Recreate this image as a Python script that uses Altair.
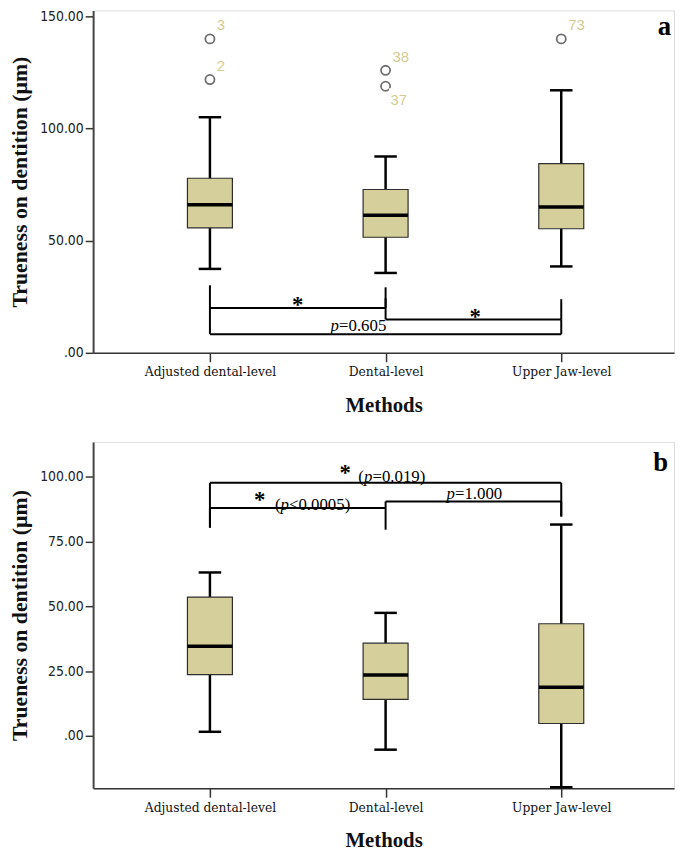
import json
import altair as alt
import pandas as pd

methods = ["Adjusted dental-level", "Dental-level", "Upper Jaw-level"]

# ---------- panel a ----------
a_low = [37.4, 35.6, 38.5]
a_q1 = [55.7, 51.5, 55.3]
a_med = [66.0, 61.3, 65.0]
a_q3 = [77.8, 72.8, 84.3]
a_high = [105.0, 87.5, 117.0]
a_out_method = [0, 0, 1, 1, 2]
a_out_value = [139.9, 121.8, 125.9, 118.8, 139.9]
a_out_label = ["3", "2", "38", "37", "73"]
a_out_side = ["above", "above", "above", "below", "above"]
a_br_from = [0, 1, 0]
a_br_to = [1, 2, 2]
a_br_level = [20.0, 14.9, 8.3]
a_br_left_end = [30.1, 24.3, 20.0]
a_br_right_end = [29.2, 23.9, 14.9]
a_star_x = [0.5, 1.51]
a_star_y = [22.9, 17.6]
a_p_x = [0.687]
a_p_y = [9.8]
a_p_prefix = [""]
a_p_suffix = ["=0.605"]
a_ticks = [0, 50, 100, 150]
a_domain = [0, 152.6]

# ---------- panel b ----------
b_low = [1.6, -5.3, -19.8]
b_q1 = [23.7, 14.1, 4.8]
b_med = [34.6, 23.5, 18.8]
b_q3 = [53.6, 35.8, 43.3]
b_high = [63.1, 47.5, 81.6]
b_br_from = [0, 0, 1]
b_br_to = [2, 1, 2]
b_br_level = [97.7, 88.0, 90.5]
b_br_left_end = [80.4, 80.4, 88.0]
b_br_right_end = [84.7, 79.6, 84.7]
b_star_x = [0.77, 0.283]
b_star_y = [103.1, 92.5]
b_p_x = [0.877, 0.402, 1.347]
b_p_y = [98.2, 87.3, 91.6]
b_p_prefix = ["(", "(", ""]
b_p_suffix = ["=0.019)", "<0.0005)", "=1.000"]
b_ticks = [0, 25, 50, 75, 100]
b_domain = [-20.2, 113.5]

# ---------- styling ----------
W = 587
H_A = 346
H_B = 350
X_DOMAIN = [-0.665, 2.642]
BOX_FILL = "#D5D09B"
LABEL_COLOR = "#D3CB93"
SERIF = "Liberation Serif"
XLAB_FONT = "DejaVu Serif Condensed"
TICK_FONT = "DejaVu Sans Condensed"
BOX_HALF = 0.128
CAP_HALF = 0.064

label_expr = json.dumps(methods) + "[datum.value]"


def make_panel(low, q1, med, q3, high, out_m, out_v, out_l, out_s,
               br_from, br_to, br_level, br_le, br_re,
               star_x, star_y, p_x, p_y, p_pre, p_suf,
               ticks, ydom, H, tag, tag_y, tag_dx):
    px_x = W / (X_DOMAIN[1] - X_DOMAIN[0])
    px_y = H / (ydom[1] - ydom[0])

    x_axis = alt.Axis(values=[0, 1, 2], labelExpr=label_expr, title="Methods",
                      grid=False, labelFlush=False, labelOverlap=False,
                      labelFont=XLAB_FONT, labelFontSize=13.8, labelColor="#111",
                      titleFont=SERIF, titleFontSize=21, titleFontWeight="bold",
                      titleColor="#111", titlePadding=16,
                      tickSize=9, tickWidth=1.5, tickColor="#333",
                      domainColor="#333", domainWidth=1.5, labelPadding=3)
    y_axis = alt.Axis(values=ticks,
                      labelExpr="datum.value == 0 ? '.00' : format(datum.value, '.2f')",
                      title="Trueness on dentition (\u00b5m)", grid=False,
                      labelFlush=False, labelFont=TICK_FONT, labelFontSize=14,
                      labelColor="#222", labelPadding=2,
                      tickSize=8, tickWidth=1.5, tickColor="#333",
                      domainColor="#444", domainWidth=2,
                      titleFont=SERIF, titleFontSize=22, titleFontWeight="bold",
                      titleColor="#111", titleX=-74, titleY=H / 2,
                      titleAngle=270, titleAlign="center", titleBaseline="middle")
    xs = alt.Scale(domain=X_DOMAIN, nice=False, zero=False)
    ys = alt.Scale(domain=ydom, nice=False, zero=False)

    def X(f):
        return alt.X(f, type="quantitative", scale=xs, axis=x_axis)

    def Y(f):
        return alt.Y(f, type="quantitative", scale=ys, axis=y_axis)

    box = pd.DataFrame({"pos": [0, 1, 2], "low": low, "q1": q1, "med": med,
                        "q3": q3, "high": high})
    base = alt.Chart(box).transform_calculate(
        bl=f"datum.pos - {BOX_HALF}", br=f"datum.pos + {BOX_HALF}",
        cl=f"datum.pos - {CAP_HALF}", cr=f"datum.pos + {CAP_HALF}")
    whisk = base.mark_rule(color="black", strokeWidth=2.5).encode(
        x=X("pos"), y=Y("low"), y2="high")
    cap_lo = base.mark_rule(color="black", strokeWidth=2.5).encode(
        x=X("cl"), x2="cr", y=Y("low"))
    cap_hi = base.mark_rule(color="black", strokeWidth=2.5).encode(
        x=X("cl"), x2="cr", y=Y("high"))
    rect = base.mark_rect(fill=BOX_FILL, stroke="#2e2e2e", strokeWidth=1.2).encode(
        x=X("bl"), x2="br", y=Y("q1"), y2="q3")
    median = base.mark_rule(color="black", strokeWidth=3.5).encode(
        x=X("bl"), x2="br", y=Y("med"))
    layers = [whisk, cap_lo, cap_hi, rect, median]

    if out_m:
        outs = pd.DataFrame({"pos": out_m, "value": out_v, "label": out_l,
                             "side": out_s})
        ob = alt.Chart(outs).transform_calculate(
            tx=f"datum.pos + (datum.side == 'above' ? 7 : 5) / {px_x}",
            ty=f"datum.value + (datum.side == 'above' ? 8.5 : -19) / {px_y}",
        ).transform_calculate(
            rx1=f"datum.tx - 1.5 / {px_x}",
            rx2=f"datum.tx + (length(datum.label) * 8.3 + 2) / {px_x}",
            ry1=f"datum.ty + 17 / {px_y}",
            ry2=f"datum.ty - 6 / {px_y}",
        )
        pts = ob.mark_point(shape="circle", filled=False, stroke="#333",
                            strokeWidth=1.8, size=85).encode(
            x=X("pos"), y=Y("value"))
        bg = ob.mark_rect(fill="white", clip=True).encode(
            x=X("rx1"), x2="rx2", y=Y("ry1"), y2="ry2")
        txt = ob.mark_text(align="left", baseline="alphabetic",
                           font="Liberation Sans", fontSize=15,
                           color=LABEL_COLOR, clip=True).encode(
            x=X("tx"), y=Y("ty"), text="label:N")
        layers += [pts, bg, txt]

    br = pd.DataFrame({"x1": br_from, "x2": br_to, "lvl": br_level,
                       "le": br_le, "re": br_re})
    bb = alt.Chart(br)
    layers += [
        bb.mark_rule(color="black", strokeWidth=2).encode(
            x=X("x1"), x2="x2", y=Y("lvl")),
        bb.mark_rule(color="black", strokeWidth=2).encode(
            x=X("x1"), y=Y("lvl"), y2="le"),
        bb.mark_rule(color="black", strokeWidth=2).encode(
            x=X("x2"), y=Y("lvl"), y2="re"),
    ]

    stars = pd.DataFrame({"x": star_x, "y": star_y, "s": ["*"] * len(star_x)})
    layers.append(alt.Chart(stars).mark_text(
        font=SERIF, fontSize=23, fontWeight="bold", color="black",
        align="center", baseline="alphabetic", dy=11).encode(
        x=X("x"), y=Y("y"), text="s:N"))

    pdf = pd.DataFrame({"x": p_x, "y": p_y, "pre": p_pre, "suf": p_suf,
                        "p": ["p"] * len(p_x)})
    pb = alt.Chart(pdf)
    layers += [
        pb.mark_text(font=SERIF, fontSize=17, color="black", align="right",
                     baseline="alphabetic").encode(x=X("x"), y=Y("y"), text="pre:N"),
        pb.mark_text(font=SERIF, fontSize=17, fontStyle="italic", color="black",
                     align="left", baseline="alphabetic").encode(
            x=X("x"), y=Y("y"), text="p:N"),
        pb.mark_text(font=SERIF, fontSize=17, color="black", align="left",
                     baseline="alphabetic", dx=8.5).encode(
            x=X("x"), y=Y("y"), text="suf:N"),
    ]

    tagdf = pd.DataFrame({"t": [tag]})
    layers.append(alt.Chart(tagdf).mark_text(
        font=SERIF, fontSize=27, fontWeight="bold", color="black",
        align="right", baseline="alphabetic", clip=True).encode(
        x=alt.value(W - tag_dx), y=alt.value(tag_y), text="t:N"))

    return alt.layer(*layers).properties(width=W, height=H)


top = make_panel(a_low, a_q1, a_med, a_q3, a_high,
                 a_out_method, a_out_value, a_out_label, a_out_side,
                 a_br_from, a_br_to, a_br_level, a_br_left_end, a_br_right_end,
                 a_star_x, a_star_y, a_p_x, a_p_y, a_p_prefix, a_p_suffix,
                 a_ticks, a_domain, H_A, "a", 25, 3)
bottom = make_panel(b_low, b_q1, b_med, b_q3, b_high,
                    [], [], [], [],
                    b_br_from, b_br_to, b_br_level, b_br_left_end, b_br_right_end,
                    b_star_x, b_star_y, b_p_x, b_p_y, b_p_prefix, b_p_suffix,
                    b_ticks, b_domain, H_B, "b", 29, 6)

chart = alt.vconcat(top, bottom, spacing=25).properties(
    padding={"left": 0, "top": -4, "right": 2, "bottom": 0}
).configure_view(fill="#F0F0F0", stroke="#555555", strokeWidth=2.5
).configure(background="white")

chart.save("out.html", embed_options={"renderer": "svg", "actions": False})
